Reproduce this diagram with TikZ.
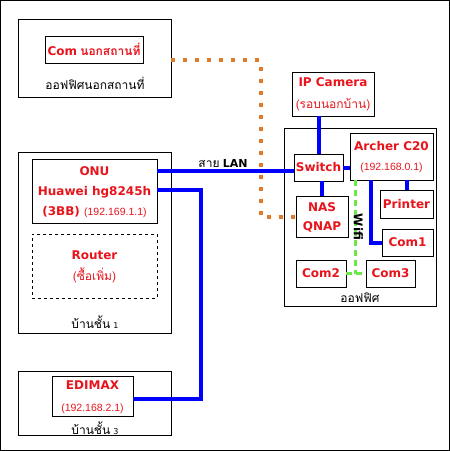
\documentclass[tikz,border=0pt]{standalone}
\usepackage{fontspec}
\setmainfont{DejaVu Sans}
\newfontfamily\thai[Script=Thai]{Loma}
\newfontfamily\ipf{Liberation Sans}
\usetikzlibrary{calc}
\definecolor{lbl}{HTML}{E8141C}
\definecolor{orn}{HTML}{E07B2A}
\definecolor{wgreen}{HTML}{6CE84A}
\newcommand{\rb}[1]{{\fontsize{12}{14}\selectfont\bfseries #1}}
\newcommand{\ip}[1]{{\ipf\mdseries\fontsize{10.5}{12}\selectfont #1}}
\newcommand{\thtxt}[1]{{\thai\fontsize{12}{14}\selectfont #1}}
\tikzset{
  box/.style={draw=black, line width=0.9pt, inner sep=0pt, align=center, text=lbl},
  cont/.style={draw=black, line width=0.9pt, inner sep=0pt},
  captxt/.style={inner sep=0pt, text=black},
  multi/.style={text=lbl, inner sep=0pt, align=center, font=\fontsize{12}{20}\selectfont\bfseries},
  lan/.style={draw=blue, line width=4pt},
  odot/.style={draw=orn, line width=4pt, dash pattern=on 4pt off 8pt},
  wifi/.style={draw=wgreen, line width=3pt, dash pattern=on 6pt off 4pt},
}
\begin{document}
\begin{tikzpicture}[x=1pt,y=-1pt]
\useasboundingbox (0,0) rectangle (450,451);
\draw[line width=1pt] (0.5,0.5) rectangle (449.2,450.2);

% off-site office
\node[cont, minimum width=153pt, minimum height=78pt] (offsite) at (94.5,58) {};
\node[box, minimum width=98pt, minimum height=27pt] (comoff) at (94,49.5) {\rb{Com} \thtxt{\bfseries นอกสถานที่}};
\node[captxt] (offlbl) at (95,83) {\thtxt{ออฟฟิศนอกสถานที่}};

% house floor 1
\node[cont, minimum width=153pt, minimum height=181pt] (house1) at (94.5,242.5) {};
\node[box, minimum width=125pt, minimum height=64pt] (onu) at (94.5,191) {};
\node[multi] (onutxt) at (94.5,192) {ONU\\ Huawei hg8245h\\ (3BB) \ip{(192.169.1.1)}};
\node[box, dashed, line width=0.8pt, minimum width=125pt, minimum height=64pt] (router) at (94.5,266) {};
\node[multi, font=\fontsize{12}{21}\selectfont\bfseries] (routertxt) at (94.5,267) {Router\\ \thtxt{\mdseries(ซื้อเพิ่ม)}};
\node[captxt] (h1lbl) at (95,322) {\thtxt{บ้านชั้น} {\fontsize{8}{10}\selectfont 1}};

% house floor 3
\node[cont, minimum width=153pt, minimum height=64pt] (house3) at (94.5,403) {};
\node[box, minimum width=81pt, minimum height=40pt] (edimax) at (92.5,396) {};
\node[multi, font=\fontsize{12}{22}\selectfont\bfseries] (edimaxtxt) at (92.5,397) {EDIMAX\\ \ip{(192.168.2.1)}};
\node[captxt] (h3lbl) at (95,428) {\thtxt{บ้านชั้น} {\fontsize{8}{10}\selectfont 3}};

% IP camera
\node[box, minimum width=82pt, minimum height=44pt] (ipcam) at (333,94) {};
\node[multi, font=\fontsize{12}{22}\selectfont\bfseries] (ipcamtxt) at (333,94) {IP Camera\\ \thtxt{\mdseries(รอบนอกบ้าน)}};

% office
\node[cont, minimum width=152pt, minimum height=178pt] (office) at (360,217) {};
\node[captxt] (offclbl) at (360,298) {\thtxt{ออฟฟิศ}};
\node[box, minimum width=49pt, minimum height=27pt] (switch) at (318.5,167.5) {\rb{Switch}};
\node[box, minimum width=83pt, minimum height=47pt] (archer) at (391.5,156.5) {};
\node[multi] (archertxt) at (391.5,157) {Archer C20\\ \ip{(192.168.0.1)}};
\node[box, minimum width=52pt, minimum height=41pt] (nas) at (322,216.5) {};
\node[multi, font=\fontsize{12}{19}\selectfont\bfseries] (nastxt) at (322,217.5) {NAS\\ QNAP};
\node[box, minimum width=53pt, minimum height=28pt] (printer) at (406.5,204) {\rb{Printer}};
\node[box, minimum width=51pt, minimum height=27pt] (com1) at (407.5,242.5) {\rb{Com1}};
\node[box, minimum width=50pt, minimum height=27pt] (com2) at (321,273.5) {\rb{Com2}};
\node[box, minimum width=49pt, minimum height=27pt] (com3) at (390.5,273.5) {\rb{Com3}};

% orange dotted link
\draw[odot] ([yshift=-2pt]offsite.east) -| ($(nas.west)+(-35,0)$) -- (nas.west);

% wifi
\coordinate (wtop) at ($(archer.south west)+(6,0)$);
\draw[wifi] (wtop) -- (wtop |- com2.east);
\draw[wifi] (com2.east) -- (com3.west);
\node[captxt, rotate=-90] (wifilbl) at (358.5,227) {\fontsize{12}{13}\selectfont\bfseries Wifi};

% LAN links
\draw[lan] (switch.north) -- (switch.north |- ipcam.south);
\draw[lan] (nas.north) -- (nas.north |- switch.south);
\draw[lan] (switch.east) -- (switch.east -| archer.west);
\draw[lan] (printer.north) -- (printer.north |- archer.south);
\draw[lan] ($(archer.south west)+(21,0)$) |- (com1.west);
\draw[lan] ([yshift=20pt]onu.east) -- ([yshift=20pt]onu.east -| switch.west);
\node[captxt, anchor=south] (lanlbl) at (223,168) {\thtxt{สาย} {\fontsize{11}{12}\selectfont\bfseries LAN}};
\draw[lan] ([yshift=1pt]onu.east) -- ++(44,0) |- ([yshift=-3pt]edimax.east);
\end{tikzpicture}
\end{document}
